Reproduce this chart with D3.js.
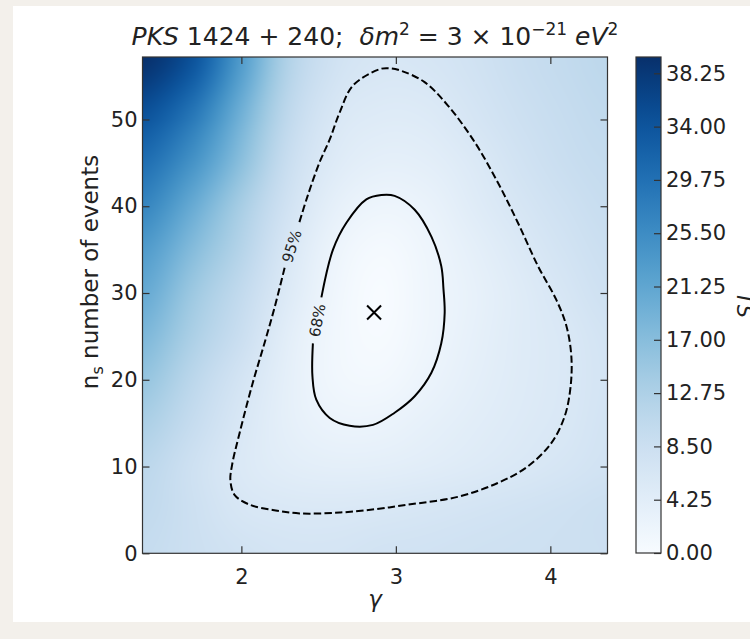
<!DOCTYPE html>
<html><head><meta charset="utf-8">
<script src="https://cdn.jsdelivr.net/npm/d3@7"></script>
<style>
html,body{margin:0;padding:0;background:#f3f0eb;}
svg{display:block;}
text{font-family:"DejaVu Sans",sans-serif;fill:#222;}
</style></head><body>
<svg id="chart" width="750" height="639"></svg>
<script>
// Grid of the TS surface: columns follow gammaNodes, one row per nsNodes entry
const gammaNodes = [1.36, 1.7, 2.0, 2.3, 2.6, 2.9, 3.2, 3.5, 3.8, 4.1, 4.37];
const nsNodes = [0, 5, 10, 15, 20, 25, 30, 35, 40, 45, 50, 57.2];
const tsNs0  = [9.5, 8.4, 7.5, 6.9, 6.9, 7.4, 7.6, 7.9, 8.1, 8.3, 8.5];
const tsNs5  = [10.2, 8.2, 6.4, 5.85, 5.75, 6.05, 6.5, 7.0, 7.5, 8.0, 8.5];
const tsNs10 = [11, 8.0, 5.6, 4.3, 3.8, 3.9, 4.4, 5.1, 5.85, 6.7, 7.5];
const tsNs15 = [13, 9.3, 6.05, 3.6, 2.35, 2.35, 3.3, 4.3, 5.2, 6.05, 7.2];
const tsNs20 = [15.5, 10.8, 7.0, 3.6, 1.4, 1.0, 2.25, 3.7, 4.9, 5.85, 7.0];
const tsNs25 = [18, 12.8, 8.7, 4.1, 1.3, 0.3, 1.7, 3.3, 4.8, 5.9, 7.2];
const tsNs30 = [20.5, 14.5, 10, 5.2, 1.6, 0.05, 1.6, 3.1, 4.8, 6.5, 8.0];
const tsNs35 = [23, 17, 11.8, 6.2, 2.2, 0.6, 1.8, 3.6, 5.5, 7.3, 8.6];
const tsNs40 = [26.5, 20, 13.5, 7.6, 3.5, 1.95, 2.6, 4.6, 6.5, 8.1, 9.2];
const tsNs45 = [30, 24, 16.5, 9.0, 5.0, 3.6, 3.9, 5.4, 7.4, 8.9, 9.7];
const tsNs50 = [34, 28, 19, 10.5, 6.1, 4.9, 5.1, 6.6, 8.2, 9.4, 10.2];
const tsNs57 = [39.5, 34, 23, 12.5, 7.8, 6.4, 6.6, 7.6, 9.0, 10.0, 10.8];
const tsRows = [tsNs0, tsNs5, tsNs10, tsNs15, tsNs20, tsNs25, tsNs30, tsNs35, tsNs40, tsNs45, tsNs50, tsNs57];

// Best-fit point (gamma, ns)
const bestFit = [2.859, 27.75];

// Confidence contours as [gamma, ns]; each runs from one side of its label gap round to the other
const contour95 = [
  [2.280, 32.9], [2.216, 28.4], [2.151, 24.3], [2.073, 19.6], [1.989, 13.9],
  [1.940, 10.2], [1.929, 8.4], [1.957, 6.7], [2.054, 5.6], [2.203, 5.0],
  [2.377, 4.6], [2.636, 4.7], [2.874, 5.1], [3.076, 5.6], [3.400, 6.5],
  [3.659, 8.1], [3.853, 10.0], [4.006, 12.7], [4.093, 15.8], [4.131, 19.2],
  [4.136, 22.7], [4.104, 26.2], [4.039, 29.2], [3.920, 33.1], [3.790, 38.1],
  [3.661, 42.7], [3.510, 47.4], [3.337, 51.6], [3.186, 54.3], [3.036, 55.6],
  [2.960, 55.9], [2.895, 55.8], [2.722, 53.9], [2.636, 50.8], [2.572, 47.7],
  [2.507, 45.1], [2.429, 41.2], [2.371, 37.9]
];
const contour68 = [
  [2.463, 24.2], [2.460, 20.4], [2.485, 17.7], [2.572, 15.6], [2.701, 14.7],
  [2.852, 14.8], [2.992, 16.2], [3.122, 18.1], [3.230, 20.8], [3.294, 24.2],
  [3.316, 27.7], [3.308, 30.5], [3.294, 33.1], [3.230, 36.5], [3.122, 39.6],
  [2.992, 41.2], [2.906, 41.3], [2.809, 40.8], [2.680, 38.1], [2.593, 35.0],
  [2.518, 29.5]
];
const contourLabels = ["95%", "68%"];

// Axis ticks
const xTicks = [2, 3, 4];
const yTicks = [0, 10, 20, 30, 40, 50];
const cbTicks = [0, 4.25, 8.5, 12.75, 17, 21.25, 25.5, 29.75, 34, 38.25];
const tsMax = 39.55;

const svg = d3.select("#chart");
svg.append("rect").attr("x", 13).attr("y", 6).attr("width", 737).attr("height", 616).attr("fill", "#fff");

const M = {left: 142.5, right: 607.5, top: 57, bottom: 553.3};
const x = d3.scaleLinear().domain([1.36, 4.37]).range([M.left, M.right]);
const y = d3.scaleLinear().domain([0, 57.2]).range([M.bottom, M.top]);
const color = d3.scaleSequential(d3.interpolateBlues).domain([0, tsMax]);

// Bicubic (Catmull-Rom) interpolation over the node grid
function fracIndex(nodes, v) {
  const n = nodes.length;
  if (v <= nodes[0]) return 0;
  if (v >= nodes[n - 1]) return n - 1;
  let k = d3.bisectRight(nodes, v) - 1;
  return k + (v - nodes[k]) / (nodes[k + 1] - nodes[k]);
}
function cr(p0, p1, p2, p3, t) {
  return 0.5 * (2 * p1 + (-p0 + p2) * t + (2 * p0 - 5 * p1 + 4 * p2 - p3) * t * t + (-p0 + 3 * p1 - 3 * p2 + p3) * t * t * t);
}
function tsAt(g, n) {
  const fi = fracIndex(gammaNodes, g), fj = fracIndex(nsNodes, n);
  const i = Math.min(Math.floor(fi), gammaNodes.length - 2), j = Math.min(Math.floor(fj), nsNodes.length - 2);
  const ti = fi - i, tj = fj - j;
  const ci = k => Math.max(0, Math.min(gammaNodes.length - 1, k));
  const cj = k => Math.max(0, Math.min(nsNodes.length - 1, k));
  const rowVal = r => {
    const row = tsRows[cj(r)];
    return cr(row[ci(i - 1)], row[ci(i)], row[ci(i + 1)], row[ci(i + 2)], ti);
  };
  return Math.max(0, cr(rowVal(j - 1), rowVal(j), rowVal(j + 1), rowVal(j + 2), tj));
}

// Heat map rendered into a canvas, placed as an image inside the plot
const W = Math.round(M.right - M.left), H = Math.round(M.bottom - M.top);
const canvas = document.createElement("canvas");
canvas.width = W; canvas.height = H;
const ctx = canvas.getContext("2d");
const img = ctx.createImageData(W, H);
for (let j = 0; j < H; j++) {
  const n = y.invert(M.top + (j + 0.5) * (M.bottom - M.top) / H);
  for (let i = 0; i < W; i++) {
    const g = x.invert(M.left + (i + 0.5) * (M.right - M.left) / W);
    const c = d3.rgb(color(tsAt(g, n)));
    const o = (j * W + i) * 4;
    img.data[o] = c.r; img.data[o + 1] = c.g; img.data[o + 2] = c.b; img.data[o + 3] = 255;
  }
}
ctx.putImageData(img, 0, 0);
svg.append("image").attr("x", M.left).attr("y", M.top)
  .attr("width", M.right - M.left).attr("height", M.bottom - M.top)
  .attr("preserveAspectRatio", "none")
  .attr("href", canvas.toDataURL());

// Contours
const line = d3.line().x(d => x(d[0])).y(d => y(d[1])).curve(d3.curveCatmullRom.alpha(0.5));
svg.append("path").attr("d", line(contour95)).attr("fill", "none")
  .attr("stroke", "#000").attr("stroke-width", 2).attr("stroke-dasharray", "7.4,3.2");
svg.append("path").attr("d", line(contour68)).attr("fill", "none")
  .attr("stroke", "#000").attr("stroke-width", 2);

// Inline labels sit in the gap between each contour's two ends
[contour95, contour68].forEach((c, k) => {
  const a = c[0], b = c[c.length - 1];
  const ax = x(a[0]), ay = y(a[1]), bx = x(b[0]), by = y(b[1]);
  const lo = ay > by ? [ax, ay] : [bx, by], hi = ay > by ? [bx, by] : [ax, ay];
  const ang = Math.atan2(hi[1] - lo[1], hi[0] - lo[0]) * 180 / Math.PI;
  const cx = (ax + bx) / 2, cy = (ay + by) / 2;
  svg.append("text").attr("transform", `translate(${cx},${cy}) rotate(${ang})`)
    .attr("text-anchor", "middle").attr("dy", "0.36em")
    .style("font-size", "15px").text(contourLabels[k]);
});

// Best-fit marker
const bx = x(bestFit[0]), by = y(bestFit[1]), s = 7;
svg.append("path").attr("d", `M${bx - s},${by - s}L${bx + s},${by + s}M${bx - s},${by + s}L${bx + s},${by - s}`)
  .attr("stroke", "#000").attr("stroke-width", 2).attr("fill", "none");

// Frame and inward ticks on all four sides
const axColor = "#333";
svg.append("rect").attr("x", M.left).attr("y", M.top).attr("width", M.right - M.left).attr("height", M.bottom - M.top)
  .attr("fill", "none").attr("stroke", axColor).attr("stroke-width", 1.2);
const tl = 7;
const axBottom = svg.append("g").attr("transform", `translate(0,${M.bottom})`)
  .call(d3.axisBottom(x).tickValues(xTicks).tickSizeInner(-tl).tickSizeOuter(0).tickPadding(tl + 9).tickFormat(d3.format("d")));
const axTop = svg.append("g").attr("transform", `translate(0,${M.top})`)
  .call(d3.axisTop(x).tickValues(xTicks).tickSizeInner(-tl).tickSizeOuter(0).tickFormat(""));
const axLeft = svg.append("g").attr("transform", `translate(${M.left},0)`)
  .call(d3.axisLeft(y).tickValues(yTicks).tickSizeInner(-tl).tickSizeOuter(0).tickPadding(5).tickFormat(d3.format("d")));
const axRight = svg.append("g").attr("transform", `translate(${M.right},0)`)
  .call(d3.axisRight(y).tickValues(yTicks).tickSizeInner(-tl).tickSizeOuter(0).tickFormat(""));
[axBottom, axTop, axLeft, axRight].forEach(a => {
  a.select(".domain").remove();
  a.selectAll(".tick line").attr("stroke", axColor).attr("stroke-width", 1.2);
  a.selectAll(".tick text").attr("fill", "#222").style("font-family", "DejaVu Sans").style("font-size", "21px");
});

// Title
const title = svg.append("text").attr("x", (M.left + M.right) / 2).attr("y", 45)
  .attr("text-anchor", "middle").style("font-size", "25px");
const sup = 17;
title.append("tspan").style("font-style", "italic").text("PKS");
title.append("tspan").text("\u00a01424\u00a0+\u00a0240;\u00a0\u00a0");
title.append("tspan").style("font-style", "italic").text("δm");
title.append("tspan").attr("dy", -10).style("font-size", sup + "px").text("2");
title.append("tspan").attr("dy", 10).text("\u00a0=\u00a03\u00a0×\u00a010");
title.append("tspan").attr("dy", -10).style("font-size", sup + "px").text("−21");
title.append("tspan").attr("dy", 10).text("\u00a0");
title.append("tspan").style("font-style", "italic").text("eV");
title.append("tspan").attr("dy", -10).style("font-size", sup + "px").text("2");

// Axis labels
svg.append("text").attr("x", (M.left + M.right) / 2).attr("y", 607).attr("text-anchor", "middle")
  .style("font-size", "23px").style("font-style", "italic").text("γ");
const yl = svg.append("text").attr("transform", `translate(98,272) rotate(-90)`)
  .attr("text-anchor", "middle").style("font-size", "23px");
yl.append("tspan").text("n");
yl.append("tspan").attr("dy", 5).style("font-size", "16px").text("s");
yl.append("tspan").attr("dy", -5).text(" number of events");

// Colour bar
const CB = {left: 636, right: 661, top: 57, bottom: 553};
const cy = d3.scaleLinear().domain([0, tsMax]).range([CB.bottom, CB.top]);
const grad = svg.append("defs").append("linearGradient").attr("id", "cbgrad")
  .attr("x1", 0).attr("y1", 1).attr("x2", 0).attr("y2", 0);
d3.range(0, 1.0001, 0.05).forEach(t => grad.append("stop").attr("offset", t).attr("stop-color", d3.interpolateBlues(t)));
svg.append("rect").attr("x", CB.left).attr("y", CB.top).attr("width", CB.right - CB.left).attr("height", CB.bottom - CB.top)
  .attr("fill", "url(#cbgrad)").attr("stroke", axColor).attr("stroke-width", 1.2);
const axCb = svg.append("g").attr("transform", `translate(${CB.right},0)`)
  .call(d3.axisRight(cy).tickValues(cbTicks).tickSizeInner(-tl).tickSizeOuter(0).tickPadding(5).tickFormat(d3.format(".2f")));
axCb.select(".domain").remove();
axCb.selectAll(".tick line").attr("stroke", axColor).attr("stroke-width", 1.2);
axCb.selectAll(".tick text").attr("fill", "#222").style("font-family", "DejaVu Sans").style("font-size", "21px");
svg.append("text").attr("transform", `translate(737,${(CB.top + CB.bottom) / 2}) rotate(90)`)
  .attr("text-anchor", "middle").style("font-size", "21px").style("font-style", "italic").text("TS");
</script>
</body></html>
